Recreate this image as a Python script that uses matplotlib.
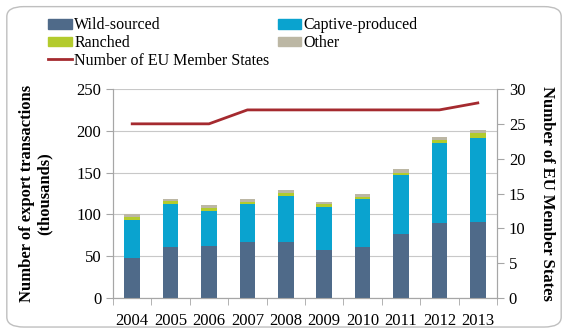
import matplotlib.pyplot as plt
import numpy as np
from matplotlib.patches import FancyBboxPatch, Patch
from matplotlib.lines import Line2D

years = ["2004", "2005", "2006", "2007", "2008", "2009", "2010", "2011", "2012", "2013"]
# segment heights (thousands)
wild = [48, 61, 62.5, 66.5, 67.5, 58, 61.5, 76, 90, 91.5]
captive = [45, 51, 41.5, 45.5, 54.5, 51, 56.5, 71, 95, 99.5]
ranched = [4, 4, 4, 3, 4, 3, 2.5, 3, 3.5, 6]
other = [3, 3, 3, 3, 3, 3, 3.5, 4, 3.5, 4.5]
member_states = [25, 25, 25, 27, 27, 27, 27, 27, 27, 28]

c_wild = "#4f6a89"
c_captive = "#0aa3cf"
c_ranched = "#b3cb2d"
c_other = "#bcb7a4"
c_line = "#a52a2f"
c_axis = "#a6a6a6"

plt.rcParams["font.family"] = "Liberation Serif"

fig = plt.figure(figsize=(5.68, 3.31), dpi=100)
frame = FancyBboxPatch((0.012, 0.012), 0.976, 0.968, boxstyle="round,pad=0,rounding_size=0.03",
                       transform=fig.transFigure, facecolor="none", edgecolor="#bfbfbf", lw=1,
                       zorder=-1)
fig.patches.append(frame)

ax = fig.add_axes([113 / 568, 1 - 298 / 331, (497 - 113) / 568, (298 - 89) / 331])
x = np.arange(len(years))
w = 0.41
b1 = np.array(wild)
b2 = b1 + np.array(captive)
b3 = b2 + np.array(ranched)
ax.bar(x, wild, w, color=c_wild, zorder=3)
ax.bar(x, captive, w, bottom=b1, color=c_captive, zorder=3)
ax.bar(x, ranched, w, bottom=b2, color=c_ranched, zorder=3)
ax.bar(x, other, w, bottom=b3, color=c_other, zorder=3)

ax.set_xlim(-0.5, len(years) - 0.5)
ax.set_ylim(0, 250)
ax.set_yticks(range(0, 251, 50))
ax.yaxis.grid(True, color="#c8c8c8", lw=0.8, zorder=0)
ax.set_xticks(x)
ax.set_xticklabels(years, fontsize=12)
ax.set_xticks(np.arange(-0.5, len(years)), minor=True)
ax.tick_params(axis="x", which="major", length=0, pad=11)
ax.tick_params(axis="x", which="minor", length=5, color=c_axis)
ax.tick_params(axis="y", length=5, color=c_axis, labelsize=12)
ax.spines["top"].set_visible(False)
for s in ["left", "right", "bottom"]:
    ax.spines[s].set_color(c_axis)
ax.set_ylabel("Number of export transactions\n(thousands)", fontsize=12, fontweight="bold",
              linespacing=1.1, labelpad=17)

ax2 = ax.twinx()
ax2.plot(x, member_states, color=c_line, lw=2, zorder=4)
ax2.set_ylim(0, 30)
ax2.set_yticks(range(0, 31, 5))
ax2.tick_params(axis="y", length=5, color=c_axis, labelsize=12)
ax2.spines["top"].set_visible(False)
for s in ["left", "right", "bottom"]:
    ax2.spines[s].set_color(c_axis)
ax2.set_ylabel("Number of EU Member States", fontsize=12, fontweight="bold", rotation=-90,
               labelpad=21)

handles = [Patch(color=c_wild), Patch(color=c_ranched),
           Line2D([], [], color=c_line, lw=2),
           Patch(color=c_captive), Patch(color=c_other)]
labels = ["Wild-sourced", "Ranched", "Number of EU Member States", "Captive-produced", "Other"]
fig.legend(handles, labels, loc="upper left", bbox_to_anchor=(42 / 568, 1 - 11 / 331), ncol=2,
           frameon=False, fontsize=11.5, handlelength=1.5, handleheight=0.55, handletextpad=0.12,
           labelspacing=0.1, columnspacing=0.5, borderaxespad=0)

fig.savefig("out.png", dpi=100)
